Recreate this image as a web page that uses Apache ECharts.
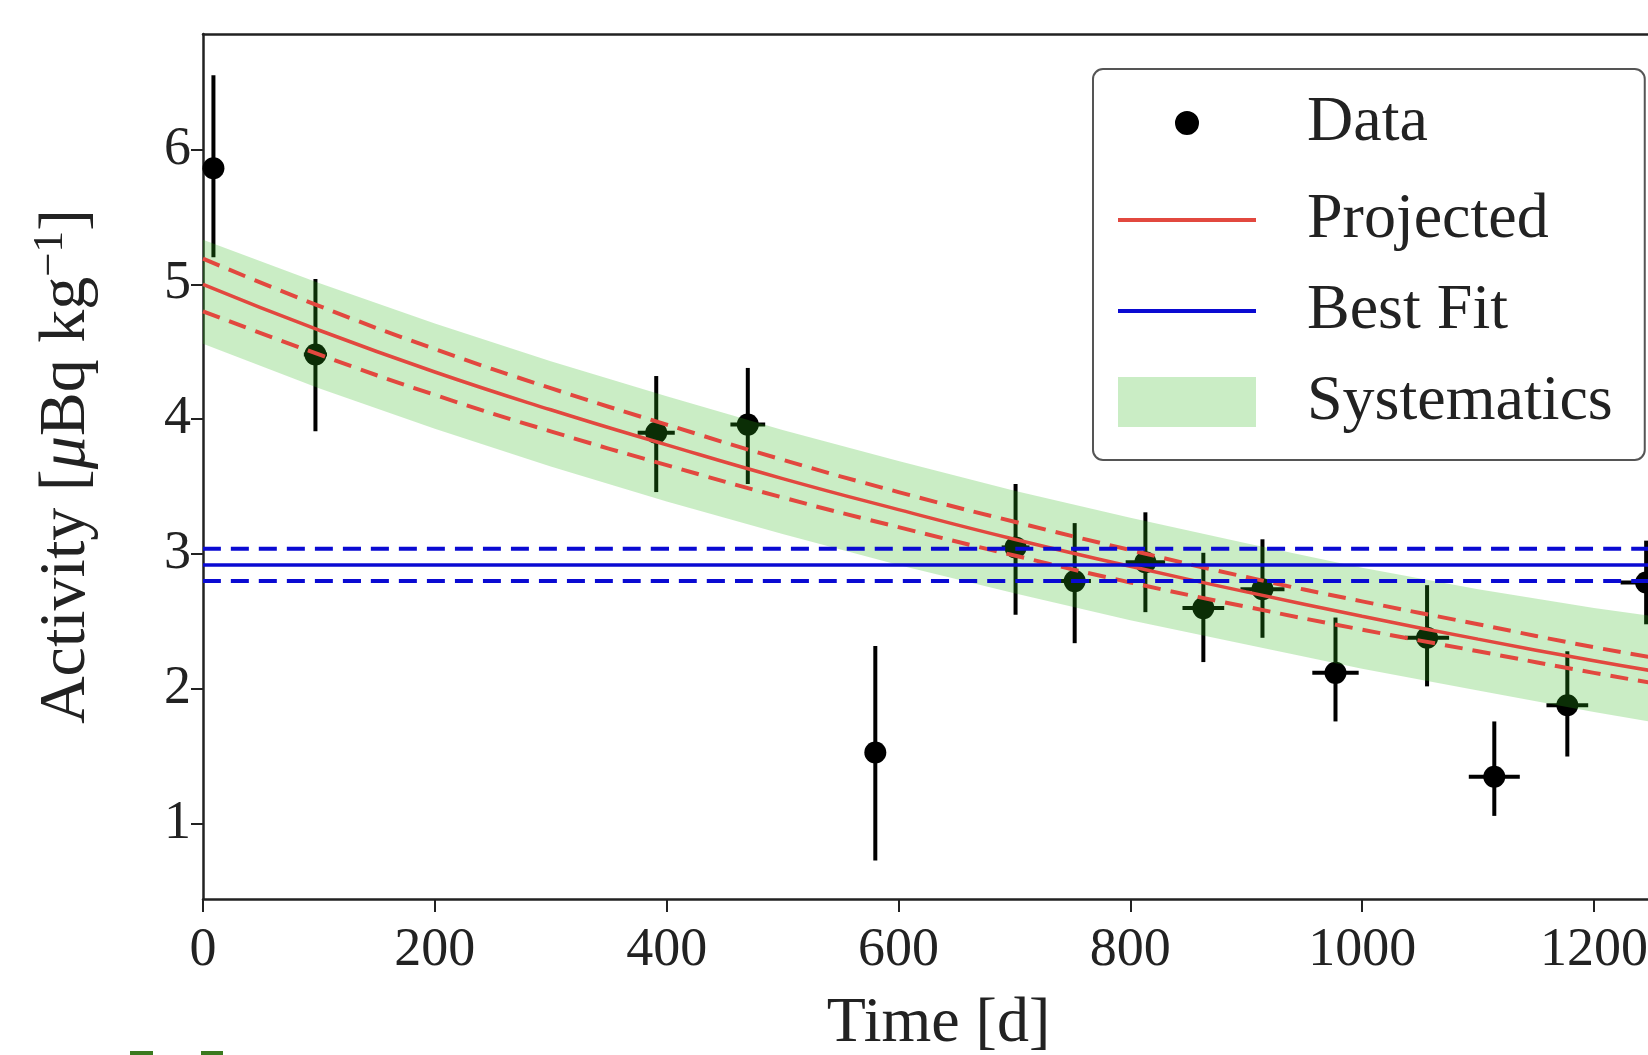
<!DOCTYPE html>
<html>
<head>
<meta charset="utf-8">
<script src="https://cdn.jsdelivr.net/npm/echarts@6/dist/echarts.min.js"></script>
<style>
  html, body { margin: 0; padding: 0; background: #fff; }
  #chart { width: 1648px; height: 1055px; }
</style>
</head>
<body>
<div id="chart"></div>
<script>
// measured points (days, activity) with error bar ends
const dayX     = [9, 97, 391, 470, 580, 701, 752, 813, 863, 914, 977, 1056, 1114, 1177, 1245];
const activity = [5.86, 4.48, 3.90, 3.96, 1.53, 3.05, 2.80, 2.94, 2.60, 2.74, 2.12, 2.38, 1.35, 1.88, 2.79];
const errHigh  = [6.55, 5.04, 4.32, 4.38, 2.32, 3.52, 3.23, 3.31, 3.01, 3.11, 2.53, 2.77, 1.76, 2.28, 3.10];
const errLow   = [5.20, 3.91, 3.46, 3.52, 0.73, 2.55, 2.34, 2.57, 2.20, 2.38, 1.76, 2.02, 1.06, 1.50, 2.48];
const xErr     = [0, 10, 16, 15, 6, 12, 14, 17, 18, 19, 20, 19, 22, 18, 22];

// projected decay curve and its bands
const projX    = [0, 100, 200, 300, 400, 500, 600, 700, 800, 900, 1000, 1100, 1200, 1268];
const projMid  = [5.00, 4.66, 4.35, 4.07, 3.81, 3.56, 3.33, 3.11, 2.91, 2.72, 2.54, 2.37, 2.21, 2.11];
const projHigh = [5.19, 4.84, 4.52, 4.23, 3.96, 3.70, 3.46, 3.24, 3.03, 2.83, 2.65, 2.48, 2.31, 2.21];
const projLow  = [4.80, 4.48, 4.18, 3.91, 3.66, 3.42, 3.20, 2.99, 2.79, 2.61, 2.44, 2.28, 2.12, 2.02];
const sysHigh  = [5.33, 5.01, 4.71, 4.43, 4.17, 3.92, 3.69, 3.47, 3.27, 3.08, 2.90, 2.74, 2.60, 2.52];
const sysLow   = [4.56, 4.23, 3.93, 3.65, 3.39, 3.15, 2.92, 2.71, 2.51, 2.33, 2.15, 1.99, 1.83, 1.73];

// best fit constant
const fitX    = [0, 1268];
const fitMid  = 2.92;
const fitHigh = 3.04;
const fitLow  = 2.80;

const xTicks = [0, 200, 400, 600, 800, 1000, 1200];
const yTicks = [1, 2, 3, 4, 5, 6];

const FONT = 'Liberation Serif';
const RED = '#e2483f';
const BLUE = '#0a0ad2';
const BAND = 'rgba(43, 183, 23, 0.25)';
// visible part of the time axis (the figure is cropped on the right)
const X_MAX = 1246.6;

const pairs = (xs, ys) => xs.map((x, i) => [x, ys[i]]);
const flat = (y) => fitX.map(x => [x, y]);

const chart = echarts.init(document.getElementById('chart'));

const lineSeries = (name, data, color, dashed, z) => ({
    name: name,
    type: 'line',
    data: data,
    smooth: true,
    symbol: 'none',
    z: z,
    lineStyle: { color: color, width: dashed ? 4 : 3.5, type: dashed ? [18, 10] : 'solid' },
    itemStyle: { color: color }
});

const option = {
    animation: false,
    backgroundColor: '#fff',
    grid: { left: 203, top: 34, right: 0, height: 865, outerBoundsMode: 'none', containLabel: false },
    xAxis: [{
        type: 'value',
        min: 0,
        max: X_MAX,
        name: 'Time [d]',
        nameLocation: 'middle',
        nameGap: 93,
        nameTextStyle: { fontFamily: FONT, fontSize: 64, color: '#222', padding: [0, 0, 0, 26] },
        splitLine: { show: false },
        axisLine: { lineStyle: { color: '#222', width: 2.5 } },
        axisTick: { length: 13, customValues: xTicks, lineStyle: { color: '#222', width: 2 } },
        axisLabel: {
            customValues: xTicks, margin: 25, fontFamily: FONT, fontSize: 54, color: '#222',
            formatter: v => String(v)
        }
    }, {
        type: 'value',
        position: 'top',
        min: 0,
        max: X_MAX,
        splitLine: { show: false },
        axisLine: { lineStyle: { color: '#222', width: 2.5 } },
        axisTick: { show: false },
        axisLabel: { show: false }
    }],
    yAxis: {
        type: 'value',
        min: 0.444,
        max: 6.855,
        name: '{a|Activity [}{i|μ}{a|Bq kg}{s|−1}{a|]}',
        nameLocation: 'middle',
        nameGap: 98,
        nameTextStyle: {
            fontFamily: FONT, fontSize: 66, color: '#222',
            rich: {
                a: { fontFamily: FONT, fontSize: 66, lineHeight: 76, color: '#222' },
                i: { fontFamily: FONT, fontSize: 66, lineHeight: 76, fontStyle: 'italic', color: '#222' },
                s: { fontFamily: FONT, fontSize: 43, lineHeight: 43, verticalAlign: 'top', color: '#222' }
            }
        },
        splitLine: { show: false },
        axisLine: { lineStyle: { color: '#222', width: 2.5 } },
        axisTick: { length: 12, customValues: yTicks, lineStyle: { color: '#222', width: 2 } },
        axisLabel: { customValues: yTicks, margin: 12, fontFamily: FONT, fontSize: 54, color: '#222' }
    },
    legend: {
        left: 1093,
        top: 69,
        orient: 'vertical',
        backgroundColor: '#fff',
        borderColor: '#555',
        borderWidth: 2,
        borderRadius: 10,
        padding: [16, 32, 26, 23],
        itemWidth: 138,
        itemHeight: 50,
        itemGap: 27,
        formatter: name => '{g|}{t|' + name + '}',
        textStyle: {
            rich: {
                g: { width: 46 },
                t: { fontFamily: FONT, fontSize: 64, lineHeight: 62, color: '#222' }
            }
        },
        data: [
            { name: 'Data', icon: 'circle', itemStyle: { color: '#000', borderColor: '#fff', borderWidth: 26 } },
            { name: 'Projected', itemStyle: { opacity: 0 }, lineStyle: { width: 4 } },
            { name: 'Best Fit', itemStyle: { opacity: 0 }, lineStyle: { width: 4 } },
            { name: 'Systematics', icon: 'rect' }
        ]
    },
    graphic: [
        { type: 'rect', shape: { x: 130, y: 1051, width: 23, height: 6 }, style: { fill: '#3b7a1f' } },
        { type: 'rect', shape: { x: 201, y: 1051, width: 22, height: 6 }, style: { fill: '#3b7a1f' } }
    ],
    series: [
        {
            name: 'Error bars',
            type: 'custom',
            z: 1,
            clip: true,
            data: dayX.map((d, i) => [d, activity[i], errLow[i], errHigh[i], xErr[i]]),
            renderItem: function (params, api) {
                const x = api.value(0), y = api.value(1);
                const top = api.coord([x, api.value(3)]);
                const bot = api.coord([x, api.value(2)]);
                const l = api.coord([x - api.value(4), y]);
                const r = api.coord([x + api.value(4), y]);
                const st = { stroke: '#000', lineWidth: 4 };
                return {
                    type: 'group',
                    children: [
                        { type: 'line', shape: { x1: top[0], y1: top[1], x2: bot[0], y2: bot[1] }, style: st },
                        { type: 'line', shape: { x1: l[0], y1: l[1], x2: r[0], y2: r[1] }, style: st }
                    ]
                };
            }
        },
        {
            name: 'Data',
            type: 'scatter',
            z: 1,
            symbolSize: 22,
            itemStyle: { color: '#000', opacity: 1 },
            data: pairs(dayX, activity)
        },
        {
            name: 'Systematics',
            type: 'custom',
            z: 2,
            clip: true,
            itemStyle: { color: BAND },
            data: [[0]],
            renderItem: function (params, api) {
                const pts = projX.map((x, i) => api.coord([x, sysHigh[i]]))
                    .concat(projX.map((x, i) => api.coord([x, sysLow[i]])).reverse());
                return { type: 'polygon', shape: { points: pts }, style: { fill: BAND } };
            }
        },
        lineSeries('Projected', pairs(projX, projMid), RED, false, 3),
        lineSeries('Projected high', pairs(projX, projHigh), RED, true, 3),
        lineSeries('Projected low', pairs(projX, projLow), RED, true, 3),
        lineSeries('Best Fit', flat(fitMid), BLUE, false, 4),
        lineSeries('Best Fit high', flat(fitHigh), BLUE, true, 4),
        lineSeries('Best Fit low', flat(fitLow), BLUE, true, 4)
    ]
};

chart.setOption(option);
</script>
</body>
</html>
